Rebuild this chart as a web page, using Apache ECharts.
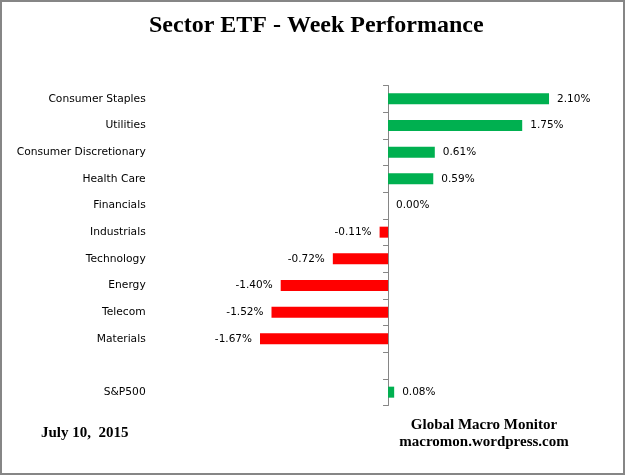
<!DOCTYPE html>
<html>
<head>
<meta charset="utf-8">
<script src="https://cdn.jsdelivr.net/npm/echarts@6/dist/echarts.min.js"></script>
<style>
html,body{margin:0;padding:0;background:#fff;}
#c{width:625px;height:475px;}
</style>
</head>
<body>
<div id="c"></div>
<script>
const categories = ['Consumer Staples','Utilities','Consumer Discretionary','Health Care','Financials','Industrials','Technology','Energy','Telecom','Materials','','S&P500'];
const values = [2.10, 1.75, 0.61, 0.59, 0.00, -0.11, -0.72, -1.40, -1.52, -1.67, null, 0.08];
const titleText = 'Sector ETF - Week Performance';
const dateText = 'July 10,  2015';
const sourceLines = ['Global Macro Monitor', 'macromon.wordpress.com'];

const chart = echarts.init(document.getElementById('c'));
const seriesData = values.map(v => {
  if (v === null) return '-';
  return {
    value: v,
    itemStyle: { color: v >= 0 ? '#00B050' : '#FF0000' },
    label: { position: v >= 0 ? 'right' : 'left' }
  };
});

chart.setOption({
  animation: false,
  backgroundColor: '#fff',
  title: {
    text: titleText,
    left: 144,
    top: 9,
    textStyle: { fontFamily: 'Liberation Serif', fontWeight: 'bold', fontSize: 24, color: '#000' }
  },
  grid: { left: 234.7, right: 45.3, top: 85.5, bottom: 69.5, containLabel: false, outerBoundsMode: 'none' },
  xAxis: {
    type: 'value',
    min: -2,
    max: 2.5,
    axisLine: { show: false },
    axisTick: { show: false },
    axisLabel: { show: false },
    splitLine: { show: false }
  },
  yAxis: {
    type: 'category',
    inverse: true,
    data: categories,
    axisLine: { show: true, onZero: true, lineStyle: { color: '#868686', width: 1 } },
    axisTick: { show: true, length: 5, lineStyle: { color: '#868686' } },
    axisLabel: {
      margin: 89,
      fontFamily: 'DejaVu Sans',
      fontSize: 10.7,
      color: '#000'
    },
    splitLine: { show: false }
  },
  series: [{
    type: 'bar',
    data: seriesData,
    barWidth: 11,
    label: {
      show: true,
      distance: 8,
      fontFamily: 'DejaVu Sans',
      fontSize: 10.5,
      color: '#000',
      formatter: p => p.value.toFixed(2) + '%'
    }
  }],
  graphic: [
    { type: 'rect', shape: { x: 1, y: 1, width: 623, height: 473 }, style: { fill: 'none', stroke: '#868686', lineWidth: 2 }, silent: true },
    { type: 'text', x: 41, y: 426, style: { text: dateText, font: 'bold 15px "Liberation Serif"', fill: '#000' } },
    { type: 'text', x: 484, y: 417, style: { text: sourceLines.join('\n'), font: 'bold 15px "Liberation Serif"', fill: '#000', align: 'center', lineHeight: 17 } }
  ]
});
</script>
</body>
</html>
